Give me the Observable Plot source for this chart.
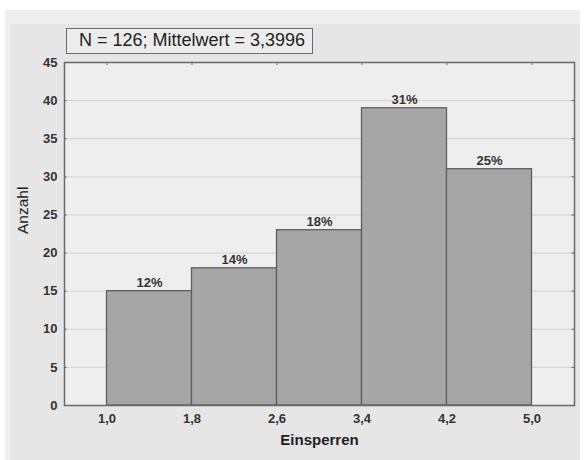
<!DOCTYPE html>
<html>
<head>
<meta charset="utf-8">
<script src="https://cdn.jsdelivr.net/npm/d3@7"></script>
<script src="https://cdn.jsdelivr.net/npm/@observablehq/plot@0.6"></script>
<style>
  html, body { margin: 0; padding: 0; background: #ffffff; width: 585px; height: 460px; overflow: hidden; }
  #outer { position: absolute; left: 5px; top: 10px; width: 575px; height: 450px; background: #efefef; }
  #panel { position: absolute; left: 10px; top: 24px; width: 570px; height: 436px; background: #e6e6e6; }
  #chart { position: absolute; left: 0; top: 0; }
  #title { position: absolute; left: 66px; top: 28px; width: 247px; height: 26px; box-sizing: border-box;
    border: 1.5px solid #6a6a6a; background: #ececec; font: 18px "Liberation Sans", Arial, sans-serif;
    color: #222; line-height: 23px; padding-left: 12px; white-space: nowrap; }
</style>
</head>
<body>
<div id="outer"></div>
<div id="panel"></div>
<div id="chart"></div>
<div id="title">N = 126; Mittelwert = 3,3996</div>
<script>
const binEdges = [1.0, 1.8, 2.6, 3.4, 4.2, 5.0];
const counts = [15, 18, 23, 39, 31];
const percentLabels = ["12%", "14%", "18%", "31%", "25%"];
const xTickLabels = ["1,0", "1,8", "2,6", "3,4", "4,2", "5,0"];
const yTicks = [0, 5, 10, 15, 20, 25, 30, 35, 40, 45];

const bars = counts.map((c, i) => ({x1: binEdges[i], x2: binEdges[i + 1], y: c, label: percentLabels[i]}));

const font = '"Liberation Sans", Arial, sans-serif';

const chart = Plot.plot({
  width: 585,
  height: 460,
  marginLeft: 64,
  marginRight: 11,
  marginTop: 62,
  marginBottom: 55,
  style: {background: "transparent", fontFamily: font, fontSize: "13px", color: "#333"},
  x: {domain: [0.6, 5.4], label: null},
  y: {domain: [0, 45], label: null},
  marks: [
    Plot.frame({fill: "#eeeeee", stroke: null}),
    Plot.gridY(yTicks.filter(d => d > 0 && d < 45), {stroke: "#d2d2d2", strokeOpacity: 1, strokeWidth: 1}),
    Plot.rect(bars, {x1: "x1", x2: "x2", y1: 0, y2: "y", fill: "#a6a6a6", stroke: "#5e5e5e", strokeWidth: 1.3}),
    Plot.text(bars, {x: d => (d.x1 + d.x2) / 2, y: "y", text: "label", dy: -8, fontSize: 13, fontWeight: "bold", fill: "#333"}),
    Plot.frame({stroke: "#6a6a6a", strokeWidth: 1.5}),
    Plot.ruleY(yTicks, {y: d => d, x1: 0.6, x2: 0.625, stroke: "#6a6a6a"}),
    Plot.ruleY(yTicks, {y: d => d, x1: 5.375, x2: 5.4, stroke: "#6a6a6a"}),
    Plot.ruleX(binEdges, {x: d => d, y1: 45, y2: 44.6, stroke: "#6a6a6a"}),
    Plot.axisY(yTicks, {tickSize: 0, tickPadding: 7, fontSize: 13, fontWeight: "bold", fill: "#333"}),
    Plot.axisX(binEdges, {tickSize: 0, tickPadding: 8, fontSize: 13, fontWeight: "bold", fill: "#333",
      tickFormat: (d, i) => xTickLabels[i]}),
    Plot.text(["Einsperren"], {frameAnchor: "bottom", dy: 39, fontSize: 15, fontWeight: "bold", fill: "#222"}),
    Plot.text(["Anzahl"], {frameAnchor: "left", dx: -41, rotate: -90, fontSize: 15.5, fill: "#222"})
  ]
});
document.getElementById("chart").appendChild(chart);
</script>
</body>
</html>
